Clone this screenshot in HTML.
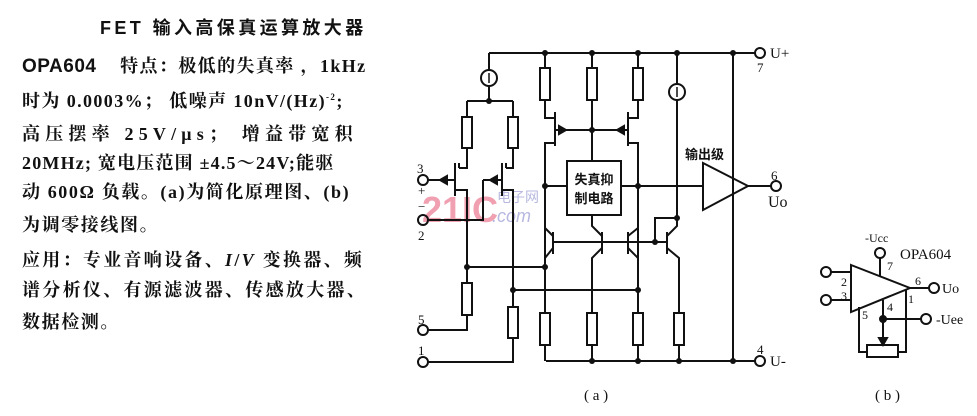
<!DOCTYPE html>
<html><head><meta charset="utf-8"><style>
html,body{margin:0;padding:0;background:#fff;}
body{width:977px;height:416px;overflow:hidden;position:relative;font-family:"Liberation Serif","Noto Serif CJK SC","Noto Sans CJK SC",serif;}
.t{position:absolute;left:22px;font-size:18px;font-weight:bold;color:#111;white-space:nowrap;letter-spacing:1.6px;}
</style></head><body>
<div class="t" style="left:100px;top:14px;font-family:'Liberation Sans','Noto Sans CJK SC',sans-serif;font-size:18px;letter-spacing:3.4px">FET 输入高保真运算放大器</div>
<div class="t" style="top:52px;letter-spacing:1.4px"><span style="font-family:'Liberation Sans',sans-serif;font-size:19px;letter-spacing:0.5px">OPA604</span>&nbsp;&nbsp;&nbsp; 特点：极低的失真率 ，1kHz</div>
<div class="t" style="top:87px;letter-spacing:1.4px">时为 0.0003%； 低噪声 10nV/(Hz)<sup style="font-size:9px">-2</sup>;</div>
<div class="t" style="top:120px;letter-spacing:5.2px">高压摆率 25V/μs； 增益带宽积</div>
<div class="t" style="top:149px;letter-spacing:1.2px">20MHz; 宽电压范围 ±4.5～24V;能驱</div>
<div class="t" style="top:178px;letter-spacing:1.6px">动 600Ω 负载。(a)为简化原理图、(b)</div>
<div class="t" style="top:211px">为调零接线图。</div>
<div class="t" style="top:246px;letter-spacing:2.3px">应用：专业音响设备、<i>I</i>/<i>V</i> 变换器、频</div>
<div class="t" style="top:276px;letter-spacing:2.3px">谱分析仪、有源滤波器、传感放大器、</div>
<div class="t" style="top:308px">数据检测。</div>

<svg width="977" height="416" style="position:absolute;left:0;top:0" fill="none" stroke="#111" stroke-width="2">
<text x="422" y="222" font-family="Liberation Sans,sans-serif" font-size="36" font-weight="bold" fill="#f0a0b0" stroke="none">21IC</text>
<text x="497" y="202" font-family="Noto Sans CJK SC,sans-serif" font-size="14" fill="#b8b8e0" stroke="none">电子网</text>
<text x="492" y="222" font-family="Liberation Sans,sans-serif" font-size="18" font-style="italic" fill="#b8b8e0" stroke="none">.com</text>
<path d="M489 53H755M733 53V361M546 361H755"/>
<circle cx="760" cy="53" r="5"/><circle cx="760" cy="361" r="5"/>
<path d="M545 53V68M592 53V68M638 53V68M545 100V118H555M592 100V143M638 100V118H628"/>
<rect x="540" y="68" width="10" height="32"/><rect x="587" y="68" width="10" height="32"/><rect x="633" y="68" width="10" height="32"/>
<path d="M555 112V146M628 112V146M555 130H628M555 143H545V260M628 143H638V260M592 130V161"/>
<path d="M566 130l-7-4v8z M617 130l7-4v8z" fill="#111"/>
<rect x="567" y="161" width="54" height="54"/>
<text x="594" y="184" font-family="Noto Sans CJK SC,sans-serif" font-size="13" font-weight="bold" fill="#111" stroke="none" text-anchor="middle">失真抑</text>
<text x="594" y="203" font-family="Noto Sans CJK SC,sans-serif" font-size="13" font-weight="bold" fill="#111" stroke="none" text-anchor="middle">制电路</text>
<path d="M545 186H567M621 186H703"/>
<path d="M703 163L748 186L703 210Z M748 186H771"/>
<circle cx="776" cy="186" r="5"/>
<text x="685" y="159" font-family="Noto Sans CJK SC,sans-serif" font-size="13" font-weight="bold" fill="#111" stroke="none">输出级</text>
<path d="M677 53V84M677 100V218H655V242"/>
<circle cx="677" cy="92" r="8"/><path d="M677 87V97" stroke-width="1.5"/>
<path d="M489 53V70M489 86V101M467 101H513M467 101V117M513 101V117M467 148V168H459M513 148V168H506"/>
<circle cx="489" cy="78" r="8"/><path d="M489 73V83" stroke-width="1.5"/>
<rect x="462" y="117" width="10" height="31"/><rect x="508" y="117" width="10" height="31"/>
<path d="M455 163V196M502 163V196M459 168V163M428 180H455M506 168V163M483 180H502M483 180V220H428M455 190H467V283M502 190H513V307"/>
<path d="M440 180l7-4v8z M490 180l7-4v8z" fill="#111"/>
<circle cx="423" cy="180" r="5"/><circle cx="423" cy="220" r="5"/><circle cx="423" cy="330" r="5"/><circle cx="423" cy="362" r="5"/>
<rect x="462" y="283" width="10" height="32"/><rect x="508" y="307" width="10" height="31"/>
<path d="M467 315V330H428M513 338V362H428M467 267H545M513 290H638"/>
<path d="M553 232V254M602 232V254M628 232V254M667 232V254M553 242H667"/>
<path d="M553 236L545 228M553 248L545 258M602 236L592 226V215M602 248L592 258V313M628 236L638 228M628 248L638 258V313M667 236L677 226V218M667 248L679 258V313M545 258V313"/>
<rect x="540" y="313" width="10" height="32"/><rect x="587" y="313" width="10" height="32"/><rect x="633" y="313" width="10" height="32"/><rect x="674" y="313" width="10" height="32"/>
<path d="M545 345V361M592 345V361M638 345V361M679 345V361"/>
<g fill="#111" stroke="none">
<circle cx="545" cy="53" r="3"/><circle cx="592" cy="53" r="3"/><circle cx="638" cy="53" r="3"/><circle cx="677" cy="53" r="3"/><circle cx="733" cy="53" r="3"/>
<circle cx="489" cy="101" r="3"/><circle cx="592" cy="130" r="3"/><circle cx="545" cy="186" r="3"/><circle cx="638" cy="186" r="3"/><circle cx="677" cy="218" r="3"/><circle cx="655" cy="242" r="3"/>
<circle cx="467" cy="267" r="3"/><circle cx="545" cy="267" r="3"/><circle cx="513" cy="290" r="3"/><circle cx="638" cy="290" r="3"/>
<circle cx="592" cy="361" r="3"/><circle cx="638" cy="361" r="3"/><circle cx="679" cy="361" r="3"/><circle cx="733" cy="361" r="3"/>
</g>
<g font-family="Liberation Serif,serif" font-size="13" fill="#111" stroke="none">
<text x="417" y="173">3</text><text x="418" y="195">+</text><text x="418" y="211">−</text><text x="418" y="240">2</text>
<text x="418" y="324">5</text><text x="418" y="355">1</text>
<text x="770" y="58" font-size="15">U+</text><text x="757" y="72">7</text>
<text x="771" y="180">6</text><text x="768" y="207" font-size="16">Uo</text>
<text x="757" y="354">4</text><text x="770" y="366" font-size="15">U-</text>
<text x="584" y="400" font-size="15">( a )</text>
</g>
<path d="M851 265L910 288L851 312Z M831 272H851M831 300H851M880 258V276M910 288H929M859 307V352H867M898 352H906V290M883 300V345M883 319H921"/>
<path d="M883 345l-4-7h8z" fill="#111"/>
<rect x="867" y="345" width="31" height="12"/>
<circle cx="826" cy="272" r="5"/><circle cx="826" cy="300" r="5"/><circle cx="880" cy="253" r="5"/><circle cx="934" cy="288" r="5"/><circle cx="926" cy="319" r="5"/>
<circle cx="883" cy="319" r="3" fill="#111"/>
<g font-family="Liberation Serif,serif" font-size="12" fill="#111" stroke="none">
<text x="865" y="242">-Ucc</text><text x="900" y="259" font-size="15">OPA604</text>
<text x="841" y="286">2</text><text x="841" y="300">3</text><text x="887" y="270">7</text><text x="915" y="285">6</text>
<text x="908" y="303">1</text><text x="862" y="319">5</text><text x="887" y="311">4</text>
<text x="942" y="293" font-size="14">Uo</text><text x="936" y="324" font-size="14">-Uee</text>
<text x="875" y="400" font-size="15">( b )</text>
</g>
</svg>
</body></html>
